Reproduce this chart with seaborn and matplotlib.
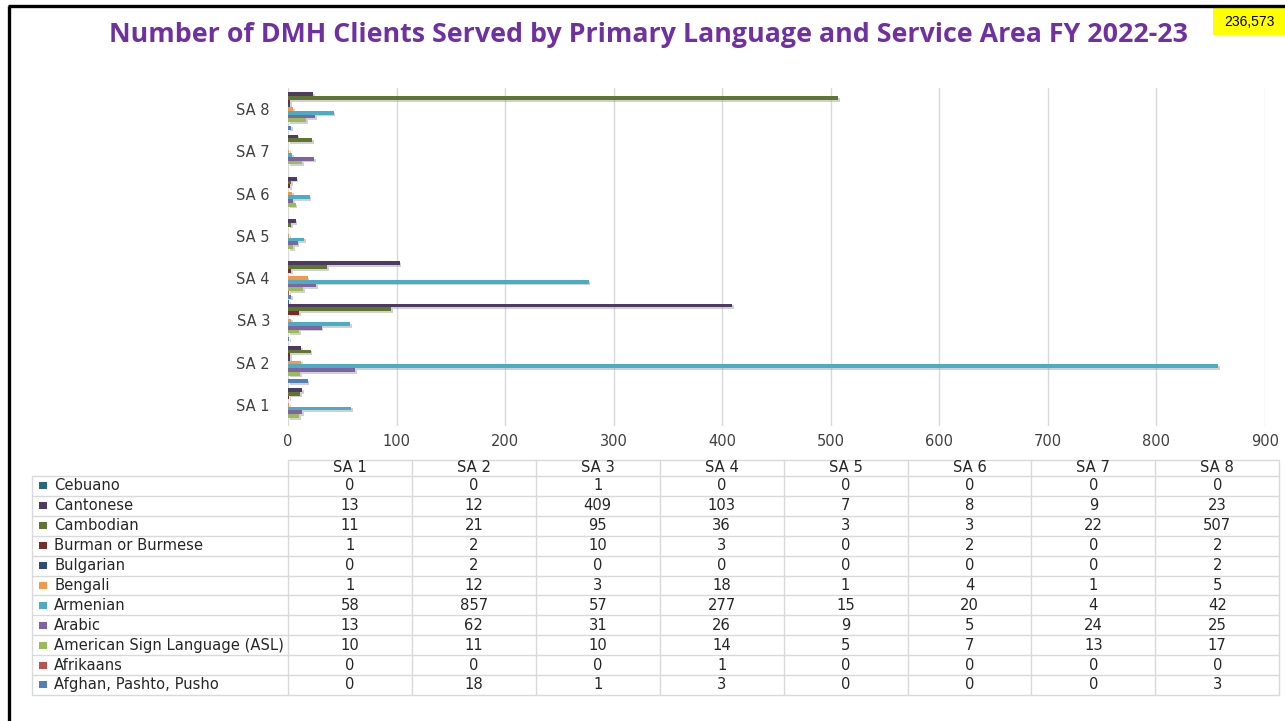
import matplotlib
matplotlib.use('Agg')
import matplotlib.pyplot as plt
import matplotlib.patheffects as pe
from matplotlib.patches import Rectangle
import seaborn as sns
import pandas as pd

# service areas and languages (table order, top to bottom)
areas = ['SA 1', 'SA 2', 'SA 3', 'SA 4', 'SA 5', 'SA 6', 'SA 7', 'SA 8']
languages = ['Cebuano', 'Cantonese', 'Cambodian', 'Burman or Burmese', 'Bulgarian',
             'Bengali', 'Armenian', 'Arabic', 'American Sign Language (ASL)',
             'Afrikaans', 'Afghan, Pashto, Pusho']

cebuano = [0, 0, 1, 0, 0, 0, 0, 0]
cantonese = [13, 12, 409, 103, 7, 8, 9, 23]
cambodian = [11, 21, 95, 36, 3, 3, 22, 507]
burmese = [1, 2, 10, 3, 0, 2, 0, 2]
bulgarian = [0, 2, 0, 0, 0, 0, 0, 2]
bengali = [1, 12, 3, 18, 1, 4, 1, 5]
armenian = [58, 857, 57, 277, 15, 20, 4, 42]
arabic = [13, 62, 31, 26, 9, 5, 24, 25]
asl = [10, 11, 10, 14, 5, 7, 13, 17]
afrikaans = [0, 0, 0, 1, 0, 0, 0, 0]
afghan = [0, 18, 1, 3, 0, 0, 0, 3]

series = [cebuano, cantonese, cambodian, burmese, bulgarian, bengali,
          armenian, arabic, asl, afrikaans, afghan]

colors = ['#276A7C', '#4D3B62', '#5F7530', '#772C2A', '#2C4D75', '#F79646',
          '#4BACC6', '#8064A2', '#9BBB59', '#C0504D', '#4F81BD']

x_ticks = [0, 100, 200, 300, 400, 500, 600, 700, 800, 900]
total_label = '236,573'
title = 'Number of DMH Clients Served by Primary Language and Service Area FY 2022-23'

rows = []
for lang, vals in zip(languages, series):
    for area, v in zip(areas, vals):
        rows.append({'area': area, 'language': lang, 'count': v})
df = pd.DataFrame(rows)

sns.set_theme(style='white')
plt.rcParams['font.family'] = ['DejaVu Sans']

W, H = 1285, 721
fig = plt.figure(figsize=(W / 100, H / 100), dpi=100)

# main bar axes (pixel layout: x 288-1265, y 88-426)
ax = fig.add_axes([288 / W, 1 - 426 / H, 977 / W, 338 / H])
sns.barplot(data=df, y='area', x='count', hue='language', order=areas[::-1],
            hue_order=languages, palette=colors, orient='h', width=0.965,
            legend=False, ax=ax, saturation=1, linewidth=0)
for p in ax.patches:
    p.set_path_effects([pe.SimplePatchShadow(offset=(1.2, -1.2), shadow_rgbFace='#999999', alpha=0.45),
                        pe.Normal()])

ax.set_xlim(0, 900)
ax.set_xticks(x_ticks)
ax.set_xticklabels([str(t) for t in x_ticks])
ax.set_xlabel('')
ax.set_ylabel('')
ax.grid(axis='x', color='#D9D9D9', linewidth=1)
ax.set_axisbelow(True)
for s in ax.spines.values():
    s.set_visible(False)
ax.tick_params(axis='x', length=0, pad=6, labelsize=10.5, labelcolor='#404040')
ax.tick_params(axis='y', length=0, pad=13, labelsize=10.5, labelcolor='#404040')

# overlay in pixel coordinates for title, box, table and frame
ov = fig.add_axes([0, 0, 1, 1], zorder=-1)
ov.set_xlim(0, W)
ov.set_ylim(H, 0)
ov.axis('off')

ov.plot([8, W], [6, 6], color='black', lw=2.4, solid_capstyle='butt')
ov.plot([9, 9], [6, H], color='black', lw=2.4, solid_capstyle='butt')

ov.text(648, 35, title, ha='center', va='center', fontsize=19.3, fontweight='bold',
        color='#7030A0', family=['Open Sans', 'DejaVu Sans'])

ov.add_patch(Rectangle((1213, 8), 72, 27, facecolor='#FFFF00', edgecolor='none'))
ov.text(1249, 21.5, total_label, ha='center', va='center', fontsize=10,
        color='black', family=['Liberation Sans', 'DejaVu Sans'])

# data table
grid_c = '#D9D9D9'
lab_l, col_l, col_w = 32, 288, 123.9
hdr_t, hdr_b = 460, 476
row_h = 19.9
n_rows = len(languages)
tab_b = hdr_b + n_rows * row_h
tab_r = col_l + col_w * len(areas)

ov.plot([col_l, tab_r], [hdr_t, hdr_t], color=grid_c, lw=1)
for i in range(n_rows + 1):
    y = hdr_b + i * row_h
    ov.plot([lab_l, tab_r], [y, y], color=grid_c, lw=1)
ov.plot([lab_l, lab_l], [hdr_b, tab_b], color=grid_c, lw=1)
for j in range(len(areas) + 1):
    x = col_l + j * col_w
    ov.plot([x, x], [hdr_t, tab_b], color=grid_c, lw=1)

txt_c = '#262626'
fs = 10.6
for j, area in enumerate(areas):
    ov.text(col_l + (j + 0.5) * col_w, (hdr_t + hdr_b) / 2, area, ha='center',
            va='center', fontsize=fs, color=txt_c)

for i, (lang, vals, c) in enumerate(zip(languages, series, colors)):
    yc = hdr_b + (i + 0.5) * row_h
    ov.add_patch(Rectangle((39, yc - 3.5), 8, 7, facecolor=c, edgecolor='none'))
    ov.text(54, yc, lang, ha='left', va='center', fontsize=fs, color=txt_c)
    for j, v in enumerate(vals):
        ov.text(col_l + (j + 0.5) * col_w, yc, str(v), ha='center', va='center',
                fontsize=fs, color=txt_c)

fig.savefig('out.png', dpi=100, facecolor='white')
